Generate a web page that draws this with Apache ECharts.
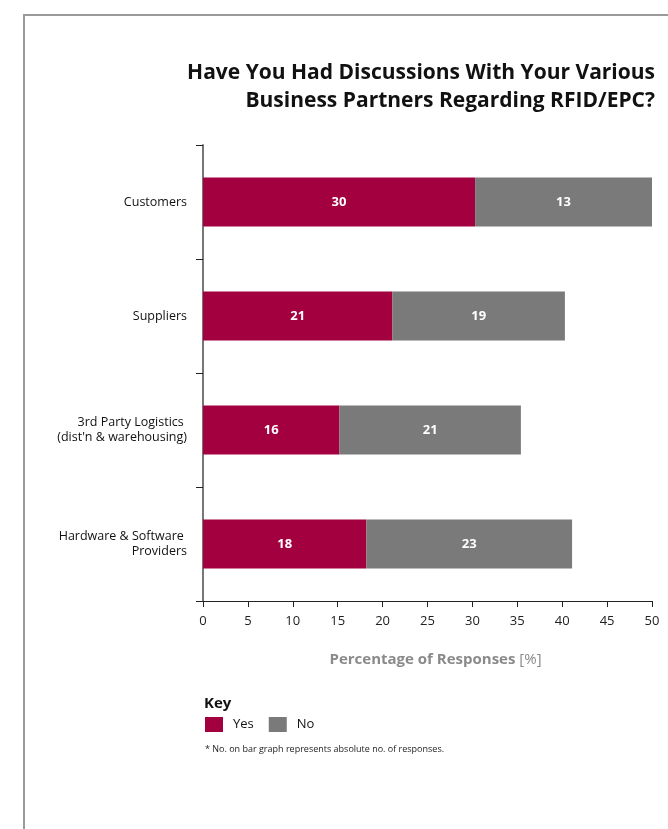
<!DOCTYPE html>
<html>
<head>
<meta charset="utf-8">
<script src="https://cdn.jsdelivr.net/npm/echarts@6/dist/echarts.min.js"></script>
<style>
  html, body { margin: 0; padding: 0; background: #ffffff; }
  #chart { width: 668px; height: 829px; }
</style>
</head>
<body>
<div id="chart"></div>
<script>
// Business partner categories (top to bottom)
const categories = [
  'Customers',
  'Suppliers',
  '3rd Party Logistics \n(dist\'n & warehousing)',
  'Hardware & Software \nProviders'
];
// Share of responses in percent (bar lengths)
const yesPercent = [30.3, 21.1, 15.2, 18.2];
const noPercent = [19.7, 19.2, 20.2, 22.9];
// Absolute number of responses printed on each bar segment
const yesCount = [30, 21, 16, 18];
const noCount = [13, 19, 21, 23];
// Horizontal axis ticks
const xTicks = [0, 5, 10, 15, 20, 25, 30, 35, 40, 45, 50];
// Title lines
const titleLines = [
  'Have You Had Discussions With Your Various',
  'Business Partners Regarding RFID/EPC?'
];

const RED = '#A3003F';
const GREY = '#7A7A7A';
const FONT = '"Open Sans", "Noto Sans", sans-serif';

const chart = echarts.init(document.getElementById('chart'), null, { renderer: 'canvas' });

const barLabel = (counts) => ({
  show: true,
  position: 'inside',
  color: '#ffffff',
  fontFamily: FONT,
  fontWeight: 'bold',
  fontSize: 13,
  formatter: (p) => String(counts[p.dataIndex])
});

chart.setOption({
  backgroundColor: '#ffffff',
  animation: false,
  grid: { left: 203, right: 16, top: 145, bottom: 228, containLabel: false },
  legend: {
    left: 205,
    top: 717,
    padding: 0,
    itemWidth: 18,
    itemHeight: 15,
    itemGap: 15,
    icon: 'rect',
    textStyle: { fontFamily: FONT, fontSize: 13, color: '#111', padding: [0, 0, 0, 5] },
    data: ['Yes', 'No']
  },
  xAxis: {
    type: 'value',
    min: xTicks[0],
    max: xTicks[xTicks.length - 1],
    interval: xTicks[1] - xTicks[0],
    splitLine: { show: false },
    axisLine: { show: true, lineStyle: { color: '#222', width: 1 } },
    axisTick: { show: true, length: 6, lineStyle: { color: '#222' } },
    axisLabel: { fontFamily: FONT, fontSize: 13, color: '#222', margin: 14 },
    name: 'Percentage of Responses {l|[%]}',
    nameLocation: 'middle',
    nameGap: 51,
    nameTextStyle: {
      fontFamily: FONT, fontSize: 15, fontWeight: 'bold', color: '#8a8a8a',
      padding: [0, 0, 0, 16],
      rich: { l: { fontFamily: FONT, fontSize: 15, fontWeight: 'normal', color: '#8a8a8a' } }
    }
  },
  yAxis: {
    type: 'category',
    inverse: true,
    data: categories,
    axisLine: { show: true, lineStyle: { color: '#777', width: 2 } },
    axisTick: { show: true, length: 7, lineStyle: { color: '#222' } },
    axisLabel: {
      fontFamily: FONT, fontSize: 12.5, color: '#111', margin: 16, lineHeight: 15,
      align: 'right', padding: [0, 0, 5, 0]
    }
  },
  series: [
    {
      name: 'Yes', type: 'bar', stack: 'total', barWidth: 49,
      itemStyle: { color: RED },
      label: barLabel(yesCount),
      data: yesPercent
    },
    {
      name: 'No', type: 'bar', stack: 'total', barWidth: 49,
      itemStyle: { color: GREY },
      label: barLabel(noCount),
      data: noPercent
    }
  ],
  graphic: [
    // page frame
    { type: 'line', shape: { x1: 24, y1: 15, x2: 668, y2: 15 }, style: { stroke: '#9a9a9a', lineWidth: 2 } },
    { type: 'line', shape: { x1: 24, y1: 14, x2: 24, y2: 829 }, style: { stroke: '#9a9a9a', lineWidth: 2 } },
    // title, each line right-aligned
    {
      type: 'text', right: 13, top: 63,
      style: { text: titleLines[0], fontFamily: FONT, fontWeight: 'bold', fontSize: 21, fill: '#111' }
    },
    {
      type: 'text', right: 13, top: 91,
      style: { text: titleLines[1], fontFamily: FONT, fontWeight: 'bold', fontSize: 21, fill: '#111' }
    },
    // key heading
    {
      type: 'text', left: 204, top: 696,
      style: { text: 'Key', fontFamily: FONT, fontWeight: 'bold', fontSize: 15, fill: '#111' }
    },
    // footnote
    {
      type: 'text', left: 205, top: 745,
      style: { text: '* No. on bar graph represents absolute no. of responses.', fontFamily: FONT, fontSize: 9, fill: '#222' }
    }
  ]
});
</script>
</body>
</html>
